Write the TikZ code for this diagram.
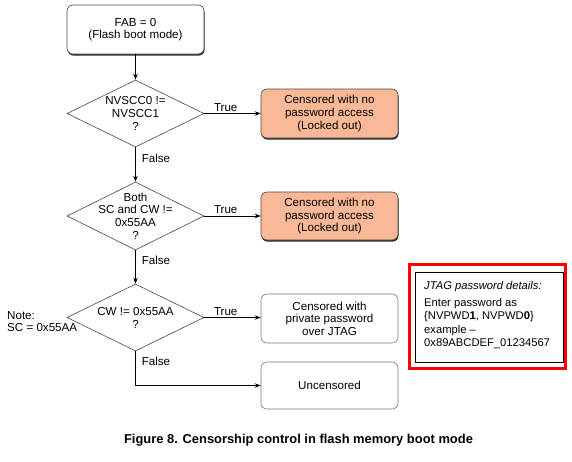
\documentclass[tikz,border=0pt]{standalone}
\usepackage{fontspec}
\setmainfont{Liberation Sans}
\usetikzlibrary{shapes.geometric,arrows.meta,shadows}
\definecolor{orangefill}{RGB}{250,185,150}
\definecolor{edgegray}{RGB}{70,70,70}
\definecolor{lightedge}{RGB}{120,120,120}
\begin{document}
\begin{tikzpicture}[x=1pt,y=-1pt,
  txt/.style={font=\fontsize{11.6}{12.6}\selectfont, align=center, text=black},
  procbox/.style={rounded corners=6pt, minimum width=137pt, inner sep=0pt, line width=0.6pt, txt},
  shadowed/.style={drop shadow={shadow xshift=0.6pt, shadow yshift=-1.6pt, opacity=0.85, fill=black}},
  decision/.style={diamond, draw=edgegray, line width=0.6pt, minimum width=137pt, minimum height=67pt, inner sep=0pt, aspect=2},
  arr/.style={-{Stealth[length=6pt,width=4.5pt,inset=2pt]}, line width=0.6pt, black},
  lbl/.style={font=\fontsize{11.6}{12.6}\selectfont, inner sep=2pt}
]
\useasboundingbox (0,0) rectangle (572,461);

% start box
\node[procbox, draw=edgegray, fill=white, shadowed, minimum height=49pt] (start) at (135.5,29.5) {FAB = 0\\(Flash boot mode)};

% decisions
\node[decision] (d1) at (135.5,113.5) {};
\node[txt] (d1t) at (135.5,113.5) {NVSCC0 !=\\NVSCC1\\?};
\node[decision, minimum height=68pt] (d2) at (135.5,216) {};
\node[txt] (d2t) at (135.5,216) {Both\\SC and CW !=\\0x55AA\\?};
\node[decision] (d3) at (135.5,317.5) {};
\node[txt] (d3t) at (135.5,318) {CW != 0x55AA\\?};

% outcome boxes
\node[procbox, draw=edgegray, fill=orangefill, shadowed, minimum height=49pt] (o1) at (329.5,113.5) {Censored with no\\password access\\(Locked out)};
\node[procbox, draw=edgegray, fill=orangefill, shadowed, minimum height=48pt] (o2) at (329.5,216) {Censored with no\\password access\\(Locked out)};
\node[procbox, draw=lightedge, fill=white, minimum height=49pt] (o3) at (329.5,318.5) {Censored with\\private password\\over JTAG};
\node[procbox, draw=lightedge, fill=white, minimum height=47pt] (o4) at (329.5,385.5) {Uncensored};

% note
\node[txt, align=left, anchor=west, inner sep=0pt] (note) at (7,321.5) {Note:\\SC = 0x55AA};

% connectors
\draw[arr] (start.south) -- (d1.north);
\draw[arr] (d1.east) -- node[lbl, above, pos=0.38] (t1) {True} (o1.west);
\draw[arr] (d1.south) -- node[lbl, right, pos=0.31, xshift=4pt] (f1) {False} (d2.north);
\draw[arr] (d2.east) -- node[lbl, above, pos=0.38] (t2) {True} (o2.west);
\draw[arr] (d2.south) -- node[lbl, right, pos=0.31, xshift=4pt] (f2) {False} (d3.north);
\draw[arr] (d3.east) -- node[lbl, above, pos=0.38] (t3) {True} (o3.west |- d3.east);
\draw[arr] (d3.south) |- node[lbl, right, pos=0.15, xshift=4pt] (f3) {False} (o4.west);

% JTAG password details
\node[draw=red, line width=3pt, minimum width=156pt, minimum height=104pt, inner sep=0pt] (redbox) at (487.5,316.5) {};
\node[draw=black, line width=0.6pt, minimum width=148pt, minimum height=90pt, inner sep=0pt] (inner) at (489,317) {};
\node[txt, align=left, anchor=north west, inner sep=0pt, font=\fontsize{11.2}{13.3}\selectfont] (jtag) at (424,281)
  {\textit{JTAG password details:}\\[4pt]Enter password as\\\{NVPWD\textbf{1}, NVPWD\textbf{0}\}\\example \textendash\\0x89ABCDEF\_01234567};

% caption
\node[font=\bfseries\fontsize{12.9}{15}\selectfont] (caption) at (298.5,440) {Figure 8. Censorship control in flash memory boot mode};
\end{tikzpicture}
\end{document}
